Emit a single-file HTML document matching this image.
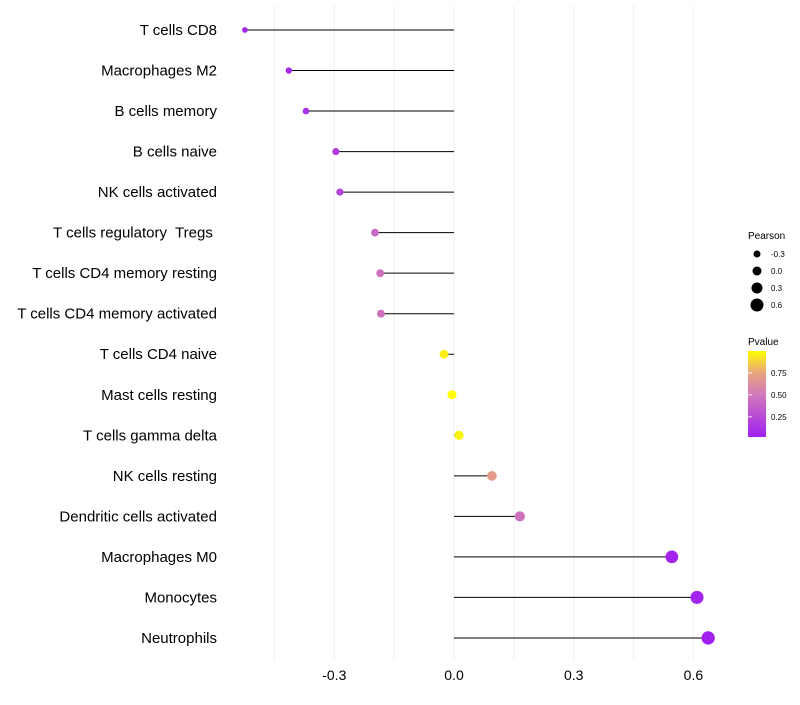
<!DOCTYPE html>
<html><head><meta charset="utf-8"><style>
body{margin:0;background:#fff;font-family:"Liberation Sans",sans-serif}
svg text{font-family:"Liberation Sans",sans-serif;white-space:pre}
</style></head><body>
<svg id="chart" width="800" height="700">
<defs><linearGradient id="pg" x1="0" y1="1" x2="0" y2="0">
<stop offset="0" stop-color="#a020f0"/><stop offset="0.5" stop-color="#d27aba"/><stop offset="0.75" stop-color="#eaa57c"/><stop offset="1" stop-color="#ffff00"/></linearGradient></defs>
<g id="grid"></g><g id="marks"></g><g id="labels"></g>
<g id="legS">
<text x="748" y="239" font-size="10">Pearson</text></g>
<g>
<text x="748" y="345" font-size="10">Pvalue</text>
<rect x="748" y="351" width="18" height="86" fill="url(#pg)"/>
<g id="legP"></g></g>
</svg>
<script>
const categories=["T cells CD8","Macrophages M2","B cells memory","B cells naive","NK cells activated","T cells regulatory  Tregs ","T cells CD4 memory resting","T cells CD4 memory activated","T cells CD4 naive","Mast cells resting","T cells gamma delta","NK cells resting","Dendritic cells activated","Macrophages M0","Monocytes","Neutrophils"];
const pearson=[-0.524,-0.414,-0.371,-0.296,-0.286,-0.198,-0.185,-0.183,-0.025,-0.005,0.0125,0.095,0.165,0.546,0.609,0.637];
const pvalue=[0.04,0.05,0.1,0.15,0.2,0.4,0.45,0.45,0.95,1.0,0.97,0.7,0.45,0.03,0.02,0.01];
const xTicks=[-0.3,0.0,0.3,0.6];
const sizeLegend=[-0.3,0.0,0.3,0.6];
const pTicks=[0.25,0.5,0.75];
const NS="http://www.w3.org/2000/svg";
const X=v=>454+v*399;
const Y=i=>30+i*40.53;
const R=v=>Math.max(1.8,3.2+(v+0.41)*3.3);
const PY=p=>437-(p-0.02)/0.98*86;
const stops=[[0,[160,32,240]],[0.5,[210,122,186]],[0.75,[234,165,124]],[1,[255,255,0]]];
function col(p){for(let i=1;i<stops.length;i++){if(p<=stops[i][0]){const a=stops[i-1],b=stops[i],t=(p-a[0])/(b[0]-a[0]);return 'rgb('+a[1].map((c,k)=>Math.round(c+(b[1][k]-c)*t)).join(',')+')';}}return 'rgb(255,255,0)';}
function mk(t,a,parent){const e=document.createElementNS(NS,t);for(const k in a)e.setAttribute(k,a[k]);document.getElementById(parent).appendChild(e);return e;}
for(let v=-0.45;v<=0.61;v+=0.15){const l=mk('line',{x1:X(v),x2:X(v),y1:5,y2:660,stroke:'#f0f0f0','stroke-width':1},'grid');

}
xTicks.forEach(v=>{const t=mk('text',{x:X(v),y:680,'font-size':14,'text-anchor':'middle',fill:'#000'},'labels');t.textContent=v.toFixed(1);

});
categories.forEach((c,i)=>{
const t=mk('text',{x:217,y:Y(i)+5,'font-size':15,'text-anchor':'end',fill:'#000'},'labels');t.textContent=c;


const l=mk('line',{x1:X(0),x2:X(pearson[i]),y1:Y(i),y2:Y(i),stroke:'#000','stroke-width':1},'marks');


const p=mk('circle',{cx:X(pearson[i]),cy:Y(i),r:R(pearson[i]),fill:col(pvalue[i])},'marks');


});
sizeLegend.forEach((v,i)=>{const y=254+i*17;
const c=mk('circle',{cx:757,cy:y,r:3.5+i,fill:'#000'},'legS');


const t=mk('text',{x:771,y:y+3,'font-size':8},'legS');t.textContent=v.toFixed(1);

});
pTicks.forEach(p=>{const y=PY(p);
const l=mk('line',{x1:748,x2:752,y1:y,y2:y,stroke:'#fff','stroke-width':0.8},'legP');


const t=mk('text',{x:771,y:y+3,'font-size':8},'legP');t.textContent=p.toFixed(2);

});
</script>
</body></html>
